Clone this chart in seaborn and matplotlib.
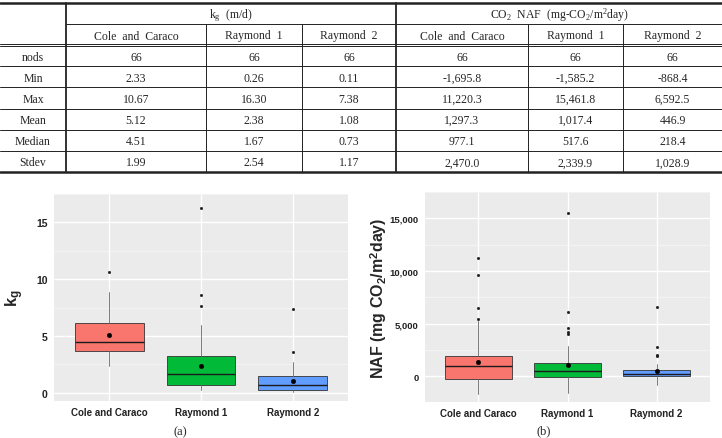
import seaborn as sns
import pandas as pd
import matplotlib.pyplot as plt

# Summary table values
methods = ["Cole and Caraco", "Raymond 1", "Raymond 2"]
stat_names = ["nods", "Min", "Max", "Mean", "Median", "Stdev"]
n_obs = [66, 66, 66]

kg_min = [2.33, 0.26, 0.11]
kg_max = [10.67, 16.30, 7.38]
kg_mean = [5.12, 2.38, 1.08]
kg_median = [4.51, 1.67, 0.73]
kg_sd = [1.99, 2.54, 1.17]

naf_min = [-1695.8, -1585.2, -868.4]
naf_max = [11220.3, 15461.8, 6592.5]
naf_mean = [1297.3, 1017.4, 446.9]
naf_median = [977.1, 517.6, 218.4]
naf_sd = [2470.0, 2339.9, 1028.9]

# Box parts
kg_q1 = [3.68, 0.66, 0.29]
kg_q3 = [6.12, 3.22, 1.47]
kg_whishi = [8.85, 6.0, 2.67]
kg_outliers = [[10.67], [7.64, 8.59, 16.30], [3.6, 7.38]]

naf_q1 = [-300, -120, -30]
naf_q3 = [1950, 1260, 570]
naf_whishi = [5200, 2820, 1170]
naf_outliers = [[5430, 6450, 9600, 11220.3],
                [3990, 4170, 4530, 6120, 15461.8],
                [1920, 2000, 2790, 6592.5]]

box_colors = ["#F8766D", "#00BA38", "#619CFF"]

sns.set_theme(style="darkgrid", rc={"axes.facecolor": "#EBEBEB", "grid.color": "white"})
plt.rcParams["font.family"] = ["Liberation Sans", "DejaVu Sans"]
plt.rcParams["mathtext.fontset"] = "custom"
plt.rcParams["mathtext.rm"] = "Liberation Serif"
plt.rcParams["mathtext.it"] = "Liberation Serif:italic"
plt.rcParams["mathtext.bf"] = "Liberation Sans:bold"

fig = plt.figure(figsize=(7.22, 4.39), dpi=100)
fig.patch.set_facecolor("white")

# ---- table (drawn in pixel coords) ----
tab = fig.add_axes([0, 0, 1, 1])
tab.set_xlim(0, 722)
tab.set_ylim(439, 0)
tab.axis("off")

cols = [0, 66, 206, 302, 396, 528, 623, 722]
top, h1, h2, bottom = 4, 25, 46, 173
row_h = (bottom - h2) / len(stat_names)
lc = "#222222"
serif = "Liberation Serif"
fs = 8.5

tab.plot([0, 722], [top, top], color=lc, lw=1.8)
tab.plot([0, 722], [bottom, bottom], color=lc, lw=1.8)
tab.plot([cols[1], 722], [h1, h1], color=lc, lw=0.7)
tab.plot([0, 722], [h2 - 1.2, h2 - 1.2], color=lc, lw=0.7)
tab.plot([0, 722], [h2 + 1.2, h2 + 1.2], color=lc, lw=0.7)
for i in range(1, len(stat_names)):
    y = h2 + i * row_h
    tab.plot([0, 722], [y, y], color=lc, lw=0.7)
for x in cols[1:-1]:
    if x in (66, 396):
        tab.plot([x, x], [top, bottom], color=lc, lw=1.3)
    else:
        tab.plot([x, x], [h1, bottom], color=lc, lw=0.7)

tab.text((cols[1] + cols[4]) / 2, (top + h1) / 2 + 1, r"k$_\mathrm{g}$  (m/d)",
         ha="center", va="center", fontsize=fs, family=serif)
tab.text((cols[4] + cols[7]) / 2, (top + h1) / 2 + 1,
         r"CO$_\mathrm{2}$  NAF  (mg-CO$_\mathrm{2}$/m$^\mathrm{2}$day)",
         ha="center", va="center", fontsize=fs, family=serif)
for k in range(6):
    xc = (cols[k + 1] + cols[k + 2]) / 2
    tab.text(xc, (h1 + h2) / 2 + 1, methods[k % 3].replace(" ", "  "),
             ha="center", va="center", fontsize=fs, family=serif)

kg_rows = [[str(v) for v in n_obs]] + [[f"{v:.2f}" for v in arr] for arr in
                                        (kg_min, kg_max, kg_mean, kg_median, kg_sd)]
naf_rows = [[str(v) for v in n_obs]] + [[f"{v:,.1f}" for v in arr] for arr in
                                         (naf_min, naf_max, naf_mean, naf_median, naf_sd)]
for i, name in enumerate(stat_names):
    yc = h2 + (i + 0.5) * row_h + 1
    tab.text((cols[0] + cols[1]) / 2, yc, name, ha="center", va="center",
             fontsize=fs, family=serif)
    for k in range(3):
        tab.text((cols[k + 1] + cols[k + 2]) / 2, yc, kg_rows[i][k],
                 ha="center", va="center", fontsize=fs, family=serif)
        tab.text((cols[k + 4] + cols[k + 5]) / 2, yc, naf_rows[i][k],
                 ha="center", va="center", fontsize=fs, family=serif)


# ---- boxplots ----
def draw_box(ax, q1, med, q3, lo, hi, mean, outliers, ticks, ylim, ytick_fs):
    stats = [dict(med=med[i], q1=q1[i], q3=q3[i], whislo=lo[i], whishi=hi[i],
                  fliers=[], label=methods[i]) for i in range(3)]
    bp = ax.bxp(stats, positions=[0, 1, 2], widths=0.75, patch_artist=True,
                showfliers=False, showcaps=False, manage_ticks=False,
                boxprops=dict(edgecolor="#333333", linewidth=0.6),
                medianprops=dict(color="#1a1a1a", linewidth=1.0),
                whiskerprops=dict(color="#666666", linewidth=0.6))
    for patch, c in zip(bp["boxes"], box_colors):
        patch.set_facecolor(c)
    out_df = pd.DataFrame({"x": [i for i in range(3) for _ in outliers[i]],
                           "y": [v for grp in outliers for v in grp]})
    sns.scatterplot(data=out_df, x="x", y="y", color="#1a1a1a", s=4,
                    edgecolor=None, ax=ax, zorder=4)
    sns.scatterplot(x=[0, 1, 2], y=mean, color="black", s=11,
                    edgecolor=None, ax=ax, zorder=5)
    ax.set_xlim(-0.6, 2.6)
    ax.set_ylim(*ylim)
    ax.set_xticks([0, 1, 2], labels=methods, fontweight="bold", fontsize=7,
                  color="#222222")
    ax.set_yticks(ticks, labels=[f"{t:,}" for t in ticks], fontweight="bold",
                  fontsize=ytick_fs, color="#222222")
    step = ticks[1] - ticks[0]
    ax.set_yticks([t + step / 2 for t in ticks[:-1]] + [ticks[-1] + step / 2], minor=True)
    ax.grid(which="major", color="white", lw=1.0)
    ax.grid(which="minor", axis="y", color="#F7F7F7", lw=0.5)
    ax.set_axisbelow(True)
    ax.tick_params(which="major", length=2.5, width=0.6, color="#333333", pad=2)
    ax.tick_params(which="minor", length=0)
    for s in ax.spines.values():
        s.set_visible(False)
    ax.set_xlabel(None)


ax_a = fig.add_axes([54 / 722, 1 - 402 / 439, 294 / 722, 207 / 439])
draw_box(ax_a, kg_q1, kg_median, kg_q3, kg_min, kg_whishi, kg_mean,
         kg_outliers, [0, 5, 10, 15], (-0.72, 17.13), 7.5)
ax_a.set_ylabel(r"k$_{\bf g}$", fontsize=12, fontweight="bold")
ax_a.yaxis.set_label_coords(-0.095, 0.5)

ax_b = fig.add_axes([425 / 722, 1 - 403 / 439, 285 / 722, 210 / 439])
draw_box(ax_b, naf_q1, naf_median, naf_q3, naf_min, naf_whishi, naf_mean,
         naf_outliers, [0, 5000, 10000, 15000], (-2460, 16440), 6.8)
ax_b.set_ylabel(r"NAF (mg CO$_{\bf 2}$/m$^{\bf 2}$day)", fontsize=11.5, fontweight="bold")
ax_b.yaxis.set_label_coords(-0.125, 0.5)

fig.text(180 / 722, 1 - 432 / 439, "(a)", ha="center", va="center",
         fontsize=9, family=serif)
fig.text(544 / 722, 1 - 431 / 439, "(b)", ha="center", va="center",
         fontsize=9, family=serif)

plt.savefig("out.png", dpi=100, facecolor="white")
